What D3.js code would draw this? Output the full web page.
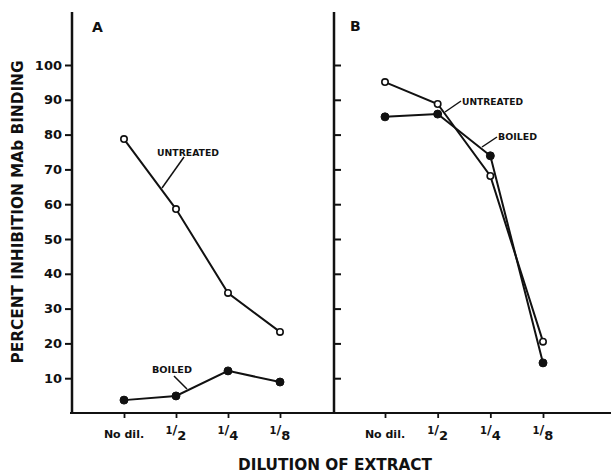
<!DOCTYPE html>
<html>
<head>
<meta charset="utf-8">
<script src="https://cdn.jsdelivr.net/npm/d3@7"></script>
<style>
  body { margin: 0; background: #fff; }
  text { font-family: "DejaVu Sans", Arial, sans-serif; font-weight: bold; fill: #111; }
</style>
</head>
<body>
<div class="chart"></div>
<script>
  // data
  const dilutions = ["No dil.", "1/2", "1/4", "1/8"];
  const yTicks = [10, 20, 30, 40, 50, 60, 70, 80, 90, 100];

  const untreatedA = [78.7, 58.6, 34.5, 23.3];
  const boiledA = [3.7, 4.9, 12.1, 8.9];
  const untreatedB = [95.1, 88.8, 68.1, 20.5];
  const boiledB = [85.1, 85.9, 73.9, 14.4];

  const width = 611, height = 475;
  const baseY = 413, topY = 12;

  const svg = d3.select(".chart").append("svg")
    .attr("width", width)
    .attr("height", height);

  const y = d3.scaleLinear().domain([0, 100]).range([baseY, 65]);

  const xA = d3.scalePoint().domain(dilutions).range([124, 280]);
  const xB = d3.scalePoint().domain(dilutions).range([385, 543]);

  // baseline
  svg.append("line")
    .attr("x1", 70).attr("x2", width)
    .attr("y1", baseY).attr("y2", baseY)
    .attr("stroke", "#111").attr("stroke-width", 2);

  // left axis (panel A)
  svg.append("line")
    .attr("x1", 72).attr("x2", 72)
    .attr("y1", topY).attr("y2", baseY)
    .attr("stroke", "#111").attr("stroke-width", 2.5);

  const yAxisA = svg.append("g")
    .attr("transform", "translate(72,0)")
    .call(d3.axisLeft(y).tickValues(yTicks).tickSize(7).tickPadding(3));
  yAxisA.select(".domain").remove();
  yAxisA.selectAll("line").attr("stroke", "#111").attr("stroke-width", 2);
  yAxisA.selectAll("text")
    .style("font-size", "13px")
    .style("font-family", "DejaVu Sans, sans-serif")
    .style("font-weight", "bold")
    .attr("fill", "#111");

  // divider axis (panel B)
  svg.append("line")
    .attr("x1", 334).attr("x2", 334)
    .attr("y1", topY).attr("y2", baseY)
    .attr("stroke", "#111").attr("stroke-width", 2.5);

  const yAxisB = svg.append("g")
    .attr("transform", "translate(334,0)")
    .call(d3.axisRight(y).tickValues(yTicks).tickSize(7).tickFormat(""));
  yAxisB.select(".domain").remove();
  yAxisB.selectAll("line").attr("stroke", "#111").attr("stroke-width", 2);

  // x axes
  function xAxis(scale) {
    const g = svg.append("g")
      .attr("transform", "translate(0," + baseY + ")")
      .call(d3.axisBottom(scale).tickSize(5).tickFormat(""));
    g.select(".domain").remove();
    g.selectAll("line").attr("stroke", "#111").attr("stroke-width", 1.8);

    dilutions.forEach(d => {
      const t = svg.append("text")
        .attr("x", scale(d))
        .attr("y", 438)
        .attr("text-anchor", "middle");
      if (d === "No dil.") {
        t.style("font-size", "11px").text(d);
      } else {
        const parts = d.split("/");
        t.style("font-size", "13px");
        t.append("tspan").attr("dy", -4).style("font-size", "10px").text(parts[0]);
        t.append("tspan").attr("dy", 0).text("/");
        t.append("tspan").attr("dy", 6).text(parts[1]);
      }
    });
  }
  xAxis(xA);
  xAxis(xB);

  // lines and markers
  const line = scale => d3.line()
    .x((d, i) => scale(dilutions[i]))
    .y(d => y(d));

  function series(vals, scale, open) {
    svg.append("path")
      .datum(vals)
      .attr("d", line(scale))
      .attr("fill", "none")
      .attr("stroke", "#111")
      .attr("stroke-width", 2);
    svg.selectAll(null)
      .data(vals)
      .enter().append("circle")
      .attr("cx", (d, i) => scale(dilutions[i]))
      .attr("cy", d => y(d))
      .attr("r", open ? 3.2 : 4)
      .attr("fill", open ? "#fff" : "#111")
      .attr("stroke", "#111")
      .attr("stroke-width", open ? 1.6 : 1);
  }
  series(boiledA, xA, false);
  series(untreatedA, xA, true);
  series(boiledB, xB, false);
  series(untreatedB, xB, true);

  // annotations
  function note(txt, tx, ty, lx1, ly1, lx2, ly2, w) {
    svg.append("text")
      .attr("x", tx).attr("y", ty)
      .attr("textLength", w)
      .attr("lengthAdjust", "spacingAndGlyphs")
      .style("font-size", "9px")
      .text(txt);
    svg.append("line")
      .attr("x1", lx1).attr("y1", ly1)
      .attr("x2", lx2).attr("y2", ly2)
      .attr("stroke", "#111").attr("stroke-width", 1.5);
  }
  note("UNTREATED", 157, 156, 184, 157, 162, 188, 62);
  note("BOILED", 152, 373, 174, 376, 187, 389, 40);
  note("UNTREATED", 462, 105, 461, 101, 445, 112, 61);
  note("BOILED", 498, 140, 497, 137, 482, 147, 39);

  // panel letters
  svg.append("text").attr("x", 92).attr("y", 32).style("font-size", "14px").text("A");
  svg.append("text").attr("x", 350).attr("y", 31).style("font-size", "14px").text("B");

  // axis titles
  svg.append("text")
    .attr("transform", "translate(23,212) rotate(-90)")
    .attr("text-anchor", "middle")
    .attr("textLength", 303)
    .attr("lengthAdjust", "spacingAndGlyphs")
    .style("font-size", "15px")
    .text("PERCENT INHIBITION MAb BINDING");

  svg.append("text")
    .attr("x", 335).attr("y", 470)
    .attr("text-anchor", "middle")
    .attr("textLength", 194)
    .attr("lengthAdjust", "spacingAndGlyphs")
    .style("font-size", "15px")
    .text("DILUTION OF EXTRACT");
</script>
</body>
</html>
